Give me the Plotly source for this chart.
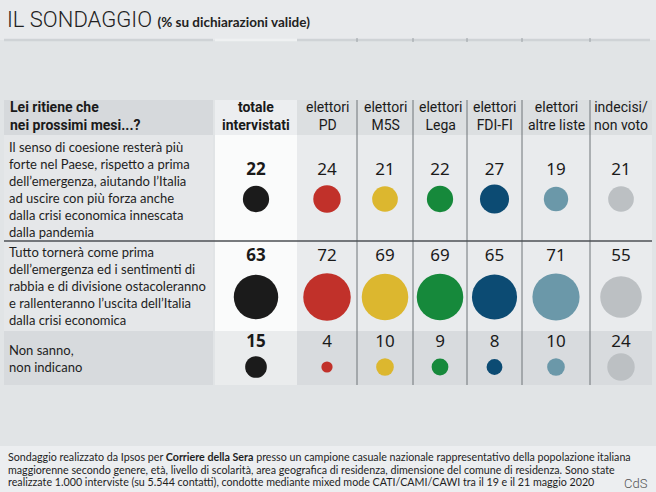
import plotly.graph_objects as go
import math

# ---------------- data ----------------
question = "Lei ritiene che<br>nei prossimi mesi...?"
groups = ["totale<br>intervistati", "elettori<br>PD", "elettori<br>M5S", "elettori<br>Lega",
          "elettori<br>FDI-FI", "elettori<br>altre liste", "indecisi/<br>non voto"]
answers = [
    "Il senso di coesione resterà più<br>forte nel Paese, rispetto a prima<br>dell’emergenza, aiutando l’Italia<br>ad uscire con più forza anche<br>dalla crisi economica innescata<br>dalla pandemia",
    "Tutto tornerà come prima<br>dell’emergenza ed i sentimenti di<br>rabbia e di divisione ostacoleranno<br>e rallenteranno l’uscita dell’Italia<br>dalla crisi economica",
    "Non sanno,<br>non indicano",
]
totale = [22, 63, 15]
pd_vals = [24, 72, 4]
m5s = [21, 69, 10]
lega = [22, 69, 9]
fdi_fi = [27, 65, 8]
altre_liste = [19, 71, 10]
indecisi = [21, 55, 24]
series = [totale, pd_vals, m5s, lega, fdi_fi, altre_liste, indecisi]

title_main = "IL SONDAGGIO"
title_sub = "(% su dichiarazioni valide)"
footer_lines = [
    "Sondaggio realizzato da Ipsos per <b>Corriere della Sera</b> presso un campione casuale nazionale rappresentativo della popolazione italiana",
    "maggiorenne secondo genere, età, livello di scolarità, area geografica di residenza, dimensione del comune di residenza. Sono state",
    "realizzate 1.000 interviste (su 5.544 contatti), condotte mediante mixed mode CATI/CAMI/CAWI tra il 19 e il 21 maggio 2020",
]
credit = "CdS"

# ---------------- layout / style ----------------
colors = ["#1b1b1b", "#c1312a", "#dcb72f", "#16893b", "#0c4b73", "#6b98a9", "#bcc0c3"]
col_centers = [256, 327, 385, 440, 494.5, 556, 621]
separators = [357, 413, 467, 522, 590]
num_y = [171, 257, 343]
circ_y = [199, 297, 367]
text_mid = [189.5, 285.5, 358]
footer_y = [456.5, 469, 481.5]
K = 5.6  # diameter = K * sqrt(value)

BG = "#e8eaec"
FONT = "Lato"

fig = go.Figure()
shapes = []

def rect(x0, y0, x1, y1, color):
    shapes.append(dict(type="rect", xref="x", yref="y", x0=x0, y0=y0, x1=x1, y1=y1,
                       fillcolor=color, line=dict(width=0), layer="below"))

def line(x0, y0, x1, y1, color, w):
    shapes.append(dict(type="line", xref="x", yref="y", x0=x0, y0=y0, x1=x1, y1=y1,
                       line=dict(color=color, width=w), layer="below"))

# background bands
rect(0, 40, 656, 446, "#e1e4e6")
rect(0, 446, 656, 492, "#eceef0")

# top rule
line(4, 40, 213, 40, "#cfd3d6", 2.5)
line(215, 40, 297, 40, "#eff1f2", 2.5)
line(297, 40, 650, 40, "#cfd3d6", 2.5)
for s in separators:
    line(s, 38, s, 42, "#9aa0a4", 1)

# header
rect(4, 100, 213, 135, "#d6d9dc")
rect(215, 100, 297, 135, "#eceef0")
rect(297, 100, 652, 135, "#dcdfe1")
# body rows 1-2
rect(4, 135, 213, 331, "#e5e7e9")
rect(215, 135, 297, 331, "#fafbfb")
rect(297, 135, 652, 331, "#e9ebed")
# row 3
rect(4, 331, 213, 385, "#d7dadd")
rect(215, 331, 297, 385, "#eaeced")
rect(297, 331, 652, 385, "#d8dbde")

# separators
for s in separators:
    line(s, 100, s, 385, "#6f7478", 1)
line(4, 241, 652, 241, "#4d5154", 1.3)

# circles and numbers
for i, vals in enumerate(series):
    fig.add_trace(go.Scatter(
        x=[col_centers[i]] * len(vals), y=circ_y, mode="markers",
        marker=dict(size=[K * math.sqrt(v) for v in vals], sizemode="diameter",
                    color=colors[i], line=dict(width=0), opacity=1),
        hoverinfo="skip", showlegend=False))
    fig.add_trace(go.Scatter(
        x=[col_centers[i]] * len(vals), y=num_y, mode="text",
        text=[(f"<b>{v}</b>" if i == 0 else str(v)) for v in vals],
        textfont=dict(family="Noto Sans", size=17, color="#1a1a1a"),
        textposition="middle center", hoverinfo="skip", showlegend=False))

ann = []
ann.append(dict(x=5, y=19, xref="x", yref="y", xanchor="left", yanchor="middle", showarrow=False,
                text=f"{title_main} <span style='font-family:Lato; font-size:13.5px'><b>{title_sub}</b></span>",
                font=dict(family="Roboto", size=22, color="#222", weight=300)))
ann.append(dict(x=8, y=116, xref="x", yref="y", xanchor="left", yanchor="middle", align="left",
                showarrow=False, text=f"<b>{question}</b>",
                font=dict(family="Roboto", size=14, color="#1a1a1a")))
for i, g in enumerate(groups):
    txt = f"<b>{g}</b>" if i == 0 else g
    ann.append(dict(x=col_centers[i], y=116, xref="x", yref="y", xanchor="center", yanchor="middle",
                    align="center", showarrow=False, text=txt,
                    font=dict(family="Roboto", size=14, color="#1a1a1a")))
for i, a in enumerate(answers):
    ann.append(dict(x=7, y=text_mid[i], xref="x", yref="y", xanchor="left", yanchor="middle",
                    align="left", showarrow=False, text=a,
                    font=dict(family=FONT, size=13, color="#1e1e1e")))
for fl, fy in zip(footer_lines, footer_y):
    ann.append(dict(x=6, y=fy, xref="x", yref="y", xanchor="left", yanchor="middle", align="left",
                    showarrow=False, text=fl, font=dict(family=FONT, size=10.7, color="#1e1e1e")))
ann.append(dict(x=650, y=483, xref="x", yref="y", xanchor="right", yanchor="middle",
                showarrow=False, text=credit,
                font=dict(family="Roboto", size=13, color="#555", weight=300)))

fig.update_layout(
    width=656, height=492, margin=dict(l=0, r=0, t=0, b=0),
    paper_bgcolor=BG, plot_bgcolor=BG,
    xaxis=dict(range=[0, 656], visible=False, fixedrange=True),
    yaxis=dict(range=[492, 0], visible=False, fixedrange=True),
    shapes=shapes, annotations=ann, showlegend=False,
)
fig.write_html("out.html", config={"displayModeBar": False},
               post_script="document.body.style.margin='0px';document.body.style.overflow='hidden';")
